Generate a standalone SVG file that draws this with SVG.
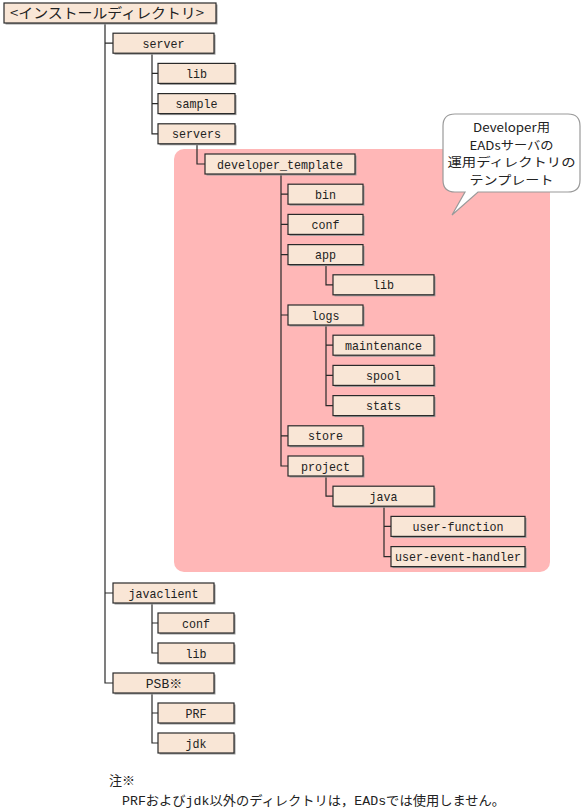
<svg xmlns="http://www.w3.org/2000/svg" width="585" height="812" viewBox="0 0 585 812">
<style>
.bx{fill:#F9E6D6;stroke:#2a2a2a;stroke-width:1.2}
.sh{fill:#9a9a9a}
.t{font-family:"Liberation Mono","Noto Sans CJK JP",monospace;font-size:13px;fill:#222;text-anchor:middle}
.j{font-family:"Noto Sans CJK JP","Liberation Mono",sans-serif;font-size:14px;fill:#222;text-anchor:middle}
.k{font-family:"Noto Sans CJK JP","Liberation Mono",sans-serif;font-size:12px;fill:#222;text-anchor:middle}
.n{font-family:"Liberation Mono","Noto Sans CJK JP",monospace;font-size:13px;fill:#222}
.c{fill:none;stroke:#2a2a2a;stroke-width:1.2}
</style>
<rect x="174" y="149" width="376" height="423" rx="10" fill="#FFB7B7"/>
<g id="connectors" class="c">
<path d="M105,23 V683 H113 M105,43.2 H113 M105,593 H113"/>
<path d="M152,53.2 V133.8 H158 M152,73.4 H158 M152,103.6 H158"/>
<path d="M197,143.8 V164 H205"/>
<path d="M281,174 V466 H288 M281,194.2 H288 M281,224.4 H288 M281,254.6 H288 M281,315 H288 M281,435.8 H288"/>
<path d="M326,264.6 V284.8 H333"/>
<path d="M326,325 V405.6 H333 M326,345.2 H333 M326,375.4 H333"/>
<path d="M326,476 V496.2 H333"/>
<path d="M384,506.2 V556.6 H391 M384,526.4 H391"/>
<path d="M152,603 V653 H158 M152,623 H158"/>
<path d="M152,693 V743 H158 M152,713 H158"/>
</g>
<g id="root"><rect class="sh" x="5.5" y="4.5" width="212" height="20"/><rect class="bx" x="4" y="3" width="212" height="20"/><text class="j" x="107" y="18" textLength="194" lengthAdjust="spacingAndGlyphs">&lt;インストールディレクトリ&gt;</text></g>
<g id="server"><rect class="sh" x="114.5" y="34.7" width="101" height="20"/><rect class="bx" x="113" y="33.2" width="101" height="20"/><text class="t" x="163.5" y="47.7" textLength="42" lengthAdjust="spacingAndGlyphs">server</text></g>
<g id="server-lib"><rect class="sh" x="159.5" y="64.9" width="77" height="20"/><rect class="bx" x="158" y="63.4" width="77" height="20"/><text class="t" x="196.5" y="77.9" textLength="21" lengthAdjust="spacingAndGlyphs">lib</text></g>
<g id="sample"><rect class="sh" x="159.5" y="95.1" width="77" height="20"/><rect class="bx" x="158" y="93.6" width="77" height="20"/><text class="t" x="196.5" y="108.1" textLength="42" lengthAdjust="spacingAndGlyphs">sample</text></g>
<g id="servers"><rect class="sh" x="159.5" y="125.3" width="77" height="20"/><rect class="bx" x="158" y="123.8" width="77" height="20"/><text class="t" x="196.5" y="138.3" textLength="49" lengthAdjust="spacingAndGlyphs">servers</text></g>
<g id="developer_template"><rect class="sh" x="206.5" y="155.5" width="150" height="20"/><rect class="bx" x="205" y="154" width="150" height="20"/><text class="t" x="280" y="168.5" textLength="126" lengthAdjust="spacingAndGlyphs">developer_template</text></g>
<g id="bin"><rect class="sh" x="289.5" y="185.7" width="75" height="20"/><rect class="bx" x="288" y="184.2" width="75" height="20"/><text class="t" x="325.5" y="198.7" textLength="21" lengthAdjust="spacingAndGlyphs">bin</text></g>
<g id="dt-conf"><rect class="sh" x="289.5" y="215.9" width="75" height="20"/><rect class="bx" x="288" y="214.4" width="75" height="20"/><text class="t" x="325.5" y="228.9" textLength="28" lengthAdjust="spacingAndGlyphs">conf</text></g>
<g id="app"><rect class="sh" x="289.5" y="246.1" width="75" height="20"/><rect class="bx" x="288" y="244.6" width="75" height="20"/><text class="t" x="325.5" y="259.1" textLength="21" lengthAdjust="spacingAndGlyphs">app</text></g>
<g id="app-lib"><rect class="sh" x="334.5" y="276.3" width="101" height="20"/><rect class="bx" x="333" y="274.8" width="101" height="20"/><text class="t" x="383.5" y="289.3" textLength="21" lengthAdjust="spacingAndGlyphs">lib</text></g>
<g id="logs"><rect class="sh" x="289.5" y="306.5" width="75" height="20"/><rect class="bx" x="288" y="305" width="75" height="20"/><text class="t" x="325.5" y="319.5" textLength="28" lengthAdjust="spacingAndGlyphs">logs</text></g>
<g id="maintenance"><rect class="sh" x="334.5" y="336.7" width="101" height="20"/><rect class="bx" x="333" y="335.2" width="101" height="20"/><text class="t" x="383.5" y="349.7" textLength="77" lengthAdjust="spacingAndGlyphs">maintenance</text></g>
<g id="spool"><rect class="sh" x="334.5" y="366.9" width="101" height="20"/><rect class="bx" x="333" y="365.4" width="101" height="20"/><text class="t" x="383.5" y="379.9" textLength="35" lengthAdjust="spacingAndGlyphs">spool</text></g>
<g id="stats"><rect class="sh" x="334.5" y="397.1" width="101" height="20"/><rect class="bx" x="333" y="395.6" width="101" height="20"/><text class="t" x="383.5" y="410.1" textLength="35" lengthAdjust="spacingAndGlyphs">stats</text></g>
<g id="store"><rect class="sh" x="289.5" y="427.3" width="75" height="20"/><rect class="bx" x="288" y="425.8" width="75" height="20"/><text class="t" x="325.5" y="440.3" textLength="35" lengthAdjust="spacingAndGlyphs">store</text></g>
<g id="project"><rect class="sh" x="289.5" y="457.5" width="75" height="20"/><rect class="bx" x="288" y="456" width="75" height="20"/><text class="t" x="325.5" y="470.5" textLength="49" lengthAdjust="spacingAndGlyphs">project</text></g>
<g id="java"><rect class="sh" x="334.5" y="487.7" width="101" height="20"/><rect class="bx" x="333" y="486.2" width="101" height="20"/><text class="t" x="383.5" y="500.7" textLength="28" lengthAdjust="spacingAndGlyphs">java</text></g>
<g id="user-function"><rect class="sh" x="392.5" y="517.9" width="134" height="20"/><rect class="bx" x="391" y="516.4" width="134" height="20"/><text class="t" x="458" y="530.9" textLength="91" lengthAdjust="spacingAndGlyphs">user-function</text></g>
<g id="user-event-handler"><rect class="sh" x="392.5" y="548.1" width="134" height="20"/><rect class="bx" x="391" y="546.6" width="134" height="20"/><text class="t" x="458" y="561.1" textLength="126" lengthAdjust="spacingAndGlyphs">user-event-handler</text></g>
<g id="javaclient"><rect class="sh" x="114.5" y="584.5" width="101" height="20"/><rect class="bx" x="113" y="583" width="101" height="20"/><text class="t" x="163.5" y="597.5" textLength="70" lengthAdjust="spacingAndGlyphs">javaclient</text></g>
<g id="jc-conf"><rect class="sh" x="159.5" y="614.5" width="76" height="20"/><rect class="bx" x="158" y="613" width="76" height="20"/><text class="t" x="196" y="627.5" textLength="28" lengthAdjust="spacingAndGlyphs">conf</text></g>
<g id="jc-lib"><rect class="sh" x="159.5" y="644.5" width="76" height="20"/><rect class="bx" x="158" y="643" width="76" height="20"/><text class="t" x="196" y="657.5" textLength="21" lengthAdjust="spacingAndGlyphs">lib</text></g>
<g id="PSB"><rect class="sh" x="114.5" y="674.5" width="101" height="20"/><rect class="bx" x="113" y="673" width="101" height="20"/><text class="t" x="164" y="687.5">PSB※</text></g>
<g id="PRF"><rect class="sh" x="159.5" y="704.5" width="76" height="20"/><rect class="bx" x="158" y="703" width="76" height="20"/><text class="t" x="196" y="717.5" textLength="21" lengthAdjust="spacingAndGlyphs">PRF</text></g>
<g id="jdk"><rect class="sh" x="159.5" y="734.5" width="76" height="20"/><rect class="bx" x="158" y="733" width="76" height="20"/><text class="t" x="196" y="747.5" textLength="21" lengthAdjust="spacingAndGlyphs">jdk</text></g>
<g id="callout">
<path d="M455,114 H568 Q580,114 580,126 V180 Q580,192 568,192 H478 L452,215 L465,192 H455 Q443,192 443,180 V126 Q443,114 455,114 Z" fill="#fff" stroke="#9a9a9a" stroke-width="1.2"/>
<text class="k" x="511.5" y="132" textLength="77" lengthAdjust="spacingAndGlyphs">Developer用</text>
<text class="k" x="511.5" y="149.5" textLength="84" lengthAdjust="spacingAndGlyphs">EADsサーバの</text>
<text class="k" x="511.5" y="167" textLength="128" lengthAdjust="spacingAndGlyphs">運用ディレクトリの</text>
<text class="k" x="511.5" y="184.5" textLength="84" lengthAdjust="spacingAndGlyphs">テンプレート</text>
</g>
<g id="note">
<text class="n" x="109" y="785">注※</text>
<text class="n" x="122" y="805" textLength="383" lengthAdjust="spacingAndGlyphs">PRFおよびjdk以外のディレクトリは，EADsでは使用しません。</text>
</g>
</svg>
